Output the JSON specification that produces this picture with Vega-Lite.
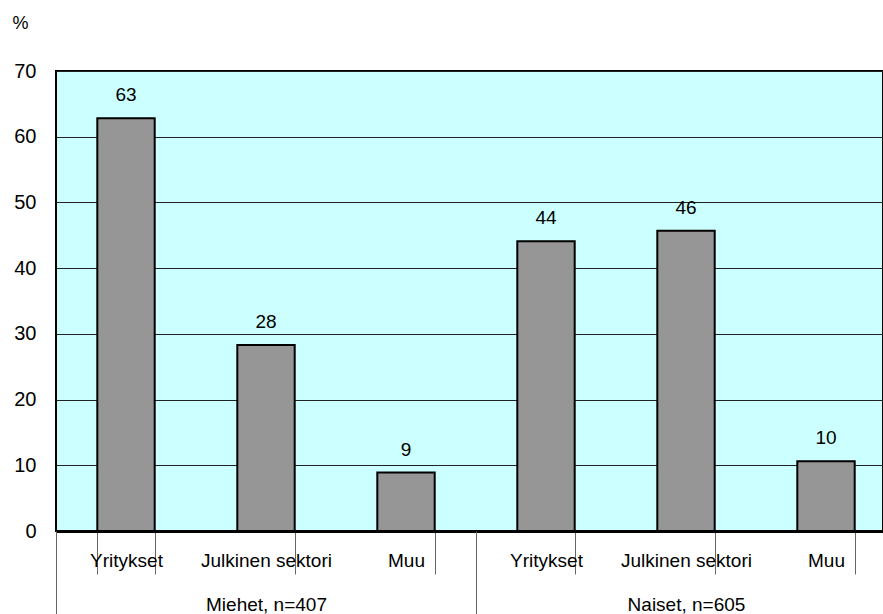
{
  "$schema": "https://vega.github.io/schema/vega-lite/v6.json",
  "autosize": "none",
  "width": 827,
  "height": 460,
  "padding": {"left": 56, "top": 71, "right": 0, "bottom": 83},
  "background": "white",
  "config": {
    "view": {"fill": "#CCFFFF", "stroke": "black", "strokeWidth": 2},
    "font": "Liberation Sans",
    "axis": {"labelFont": "Liberation Sans", "titleFont": "Liberation Sans", "labelColor": "black", "titleColor": "black"}
  },
  "data": {
    "values": [
      {"key": "Miehet|Yritykset", "group": "Miehet, n=407", "value": 62.8, "label": "63"},
      {"key": "Miehet|Julkinen sektori", "group": "Miehet, n=407", "value": 28.3, "label": "28"},
      {"key": "Miehet|Muu", "group": "Miehet, n=407", "value": 8.9, "label": "9"},
      {"key": "Naiset|Yritykset", "group": "Naiset, n=605", "value": 44.1, "label": "44"},
      {"key": "Naiset|Julkinen sektori", "group": "Naiset, n=605", "value": 45.7, "label": "46"},
      {"key": "Naiset|Muu", "group": "Naiset, n=605", "value": 10.6, "label": "10"}
    ]
  },
  "layer": [
    {
      "encoding": {
        "x": {
          "field": "key", "type": "nominal", "sort": null,
          "scale": {"range": [0, 840], "paddingInner": 0.59, "paddingOuter": 0.295},
          "axis": {
            "title": null, "orient": "bottom", "offset": 0, "labelAngle": 0,
            "labelExpr": "split(datum.label, '|')[1]",
            "labelFontSize": 19, "labelPadding": -23,
            "tickBand": "extent", "tickSize": 43, "tickColor": "#666", "tickWidth": 1,
            "domain": true, "domainColor": "black", "domainWidth": 3
          }
        },
        "y": {
          "field": "value", "type": "quantitative",
          "scale": {"domain": [0, 70], "nice": false},
          "axis": {
            "title": "%", "titleAngle": 0, "titleAlign": "left", "titleBaseline": "alphabetic",
            "titleX": -44, "titleY": -43, "titleFontSize": 18, "titleFontWeight": "normal",
            "values": [0, 10, 20, 30, 40, 50, 60, 70],
            "labelFontSize": 20, "labelPadding": 20, "ticks": false, "domain": false,
            "grid": true, "gridColor": "#222", "gridWidth": 1, "gridOpacity": 1
          }
        }
      },
      "layer": [
        {"mark": {"type": "bar", "fill": "#969696", "stroke": "black", "strokeWidth": 2}},
        {
          "mark": {"type": "text", "baseline": "alphabetic", "dy": -17, "fontSize": 19, "color": "black", "font": "Liberation Sans"},
          "encoding": {"text": {"field": "label"}}
        }
      ]
    },
    {
      "mark": {"type": "bar", "opacity": 0},
      "encoding": {
        "x": {
          "field": "group", "type": "nominal", "sort": null,
          "scale": {"range": [0, 840], "paddingInner": 0, "paddingOuter": 0},
          "axis": {
            "title": null, "orient": "bottom", "offset": 0, "labelAngle": 0,
            "labelFontSize": 19, "labelPadding": -19,
            "tickBand": "extent", "tickSize": 83, "tickColor": "#666", "tickWidth": 1,
            "domain": false
          }
        },
        "y": {"field": "value", "type": "quantitative", "aggregate": "max"}
      }
    }
  ],
  "resolve": {"scale": {"x": "independent"}, "axis": {"x": "independent"}}
}
